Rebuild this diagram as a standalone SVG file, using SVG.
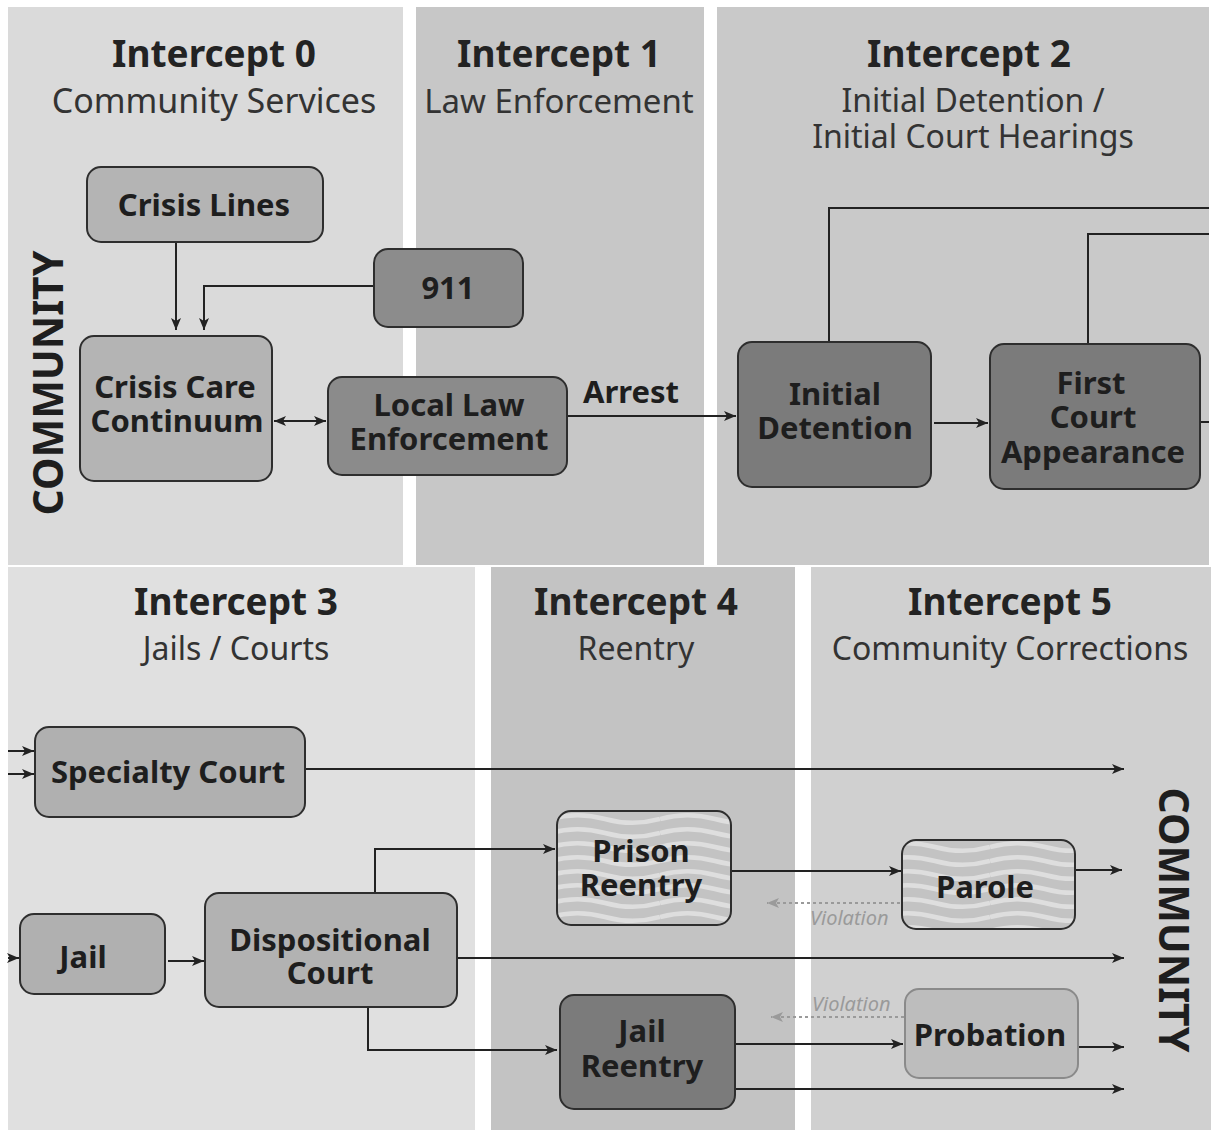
<svg xmlns="http://www.w3.org/2000/svg" width="1215" height="1130" viewBox="0 0 1215 1130">
<style>
.title{font-family:"Noto Sans","Open Sans",sans-serif;font-weight:700;font-size:37px;fill:#232323;text-anchor:middle}
.sub{font-family:"Noto Sans","Open Sans",sans-serif;font-size:32px;fill:#333;text-anchor:middle}
.lbl{font-family:"Noto Sans","Open Sans",sans-serif;font-weight:700;font-size:31px;fill:#1e1e1e;text-anchor:middle}
.comm{font-family:"Noto Sans","Open Sans",sans-serif;font-weight:700;font-size:41px;fill:#1e1e1e;text-anchor:middle}
.viol{font-family:"Noto Sans","Open Sans",sans-serif;font-style:italic;font-size:20px;fill:#9a9a9a}
.box{stroke:#2e2e2e;stroke-width:2}
.ln{fill:none;stroke:#222;stroke-width:2}
.dash{fill:none;stroke:#9a9a9a;stroke-width:2;stroke-dasharray:3 3}
</style>
<defs>
<marker id="ah" markerUnits="userSpaceOnUse" markerWidth="12" markerHeight="10" refX="12" refY="5" orient="auto">
<path d="M0,0 L12,5 L0,10 L3,5 Z" fill="#222"/>
</marker>
<marker id="ahs" markerUnits="userSpaceOnUse" markerWidth="12" markerHeight="10" refX="0" refY="5" orient="auto">
<path d="M12,0 L0,5 L12,10 L9,5 Z" fill="#222"/>
</marker>
<marker id="ahg" markerUnits="userSpaceOnUse" markerWidth="12" markerHeight="10" refX="12" refY="5" orient="auto">
<path d="M0,0 L12,5 L0,10 L3,5 Z" fill="#9a9a9a"/>
</marker>
<pattern id="wave" patternUnits="userSpaceOnUse" width="110" height="14">
<rect width="110" height="14" fill="#c3c3c3"/>
<path d="M0,7 C18,2 37,2 55,7 C73,12 92,12 110,7" fill="none" stroke="#dedede" stroke-width="4.5"/>
</pattern>
</defs>

<!-- panels -->
<g id="panels">
<rect x="8" y="7" width="395" height="558" fill="#dadada"/>
<rect x="416" y="7" width="288" height="558" fill="#c7c7c7"/>
<rect x="717" y="7" width="492" height="558" fill="#c9c9c9"/>
<rect x="8" y="567" width="467" height="563" fill="#e0e0e0"/>
<rect x="491" y="567" width="304" height="563" fill="#c3c3c3"/>
<rect x="811" y="567" width="400" height="563" fill="#d0d0d0"/>
</g>

<g id="headings">
<text class="title" x="214" y="67">Intercept 0</text>
<text class="sub" x="214" y="113" style="font-size:34px">Community Services</text>
<text class="title" x="559" y="67">Intercept 1</text>
<text class="sub" x="559" y="113" style="font-size:33px">Law Enforcement</text>
<text class="title" x="969" y="67">Intercept 2</text>
<text class="sub" x="973" y="112"><tspan x="973">Initial Detention /</tspan><tspan x="973" dy="36">Initial Court Hearings</tspan></text>
<text class="title" x="236" y="615">Intercept 3</text>
<text class="sub" x="236" y="660">Jails / Courts</text>
<text class="title" x="636" y="615">Intercept 4</text>
<text class="sub" x="636" y="660">Reentry</text>
<text class="title" x="1010" y="615">Intercept 5</text>
<text class="sub" x="1010" y="660">Community Corrections</text>
<text class="comm" transform="translate(63,383) rotate(-90)">COMMUNITY</text>
<text class="comm" transform="translate(1159,920) rotate(90)">COMMUNITY</text>
</g>

<g id="connectors">
<path class="ln" d="M176,243 V330" marker-end="url(#ah)"/>
<path class="ln" d="M374,286 H204 V330" marker-end="url(#ah)"/>
<path class="ln" d="M274,421 H326" marker-start="url(#ahs)" marker-end="url(#ah)"/>
<path class="ln" d="M567,416 H736" marker-end="url(#ah)"/>
<text class="lbl" x="631" y="403">Arrest</text>
<path class="ln" d="M934,423 H988" marker-end="url(#ah)"/>
<path class="ln" d="M829,342 V208 H1209"/>
<path class="ln" d="M1088,344 V234 H1209"/>
<path class="ln" d="M1200,422 H1209"/>

<path class="ln" d="M8,751 H34" marker-end="url(#ah)"/>
<path class="ln" d="M8,774 H34" marker-end="url(#ah)"/>
<path class="ln" d="M8,958 H19" marker-end="url(#ah)"/>
<path class="ln" d="M305,769 H1124" marker-end="url(#ah)"/>
<path class="ln" d="M168,961 H204" marker-end="url(#ah)"/>
<path class="ln" d="M375,893 V849 H555" marker-end="url(#ah)"/>
<path class="ln" d="M457,958 H1124" marker-end="url(#ah)"/>
<path class="ln" d="M368,1007 V1050 H557" marker-end="url(#ah)"/>
<path class="ln" d="M731,871 H901" marker-end="url(#ah)"/>
<path class="ln" d="M1075,870 H1122" marker-end="url(#ah)"/>
<path class="dash" d="M900,903 H767" marker-end="url(#ahg)"/>
<text class="viol" x="810" y="925">Violation</text>
<path class="dash" d="M904,1017 H771" marker-end="url(#ahg)"/>
<text class="viol" x="812" y="1011">Violation</text>
<path class="ln" d="M735,1044 H903" marker-end="url(#ah)"/>
<path class="ln" d="M1078,1047 H1124" marker-end="url(#ah)"/>
<path class="ln" d="M735,1089 H1124" marker-end="url(#ah)"/>
</g>

<g id="crisis-lines"><rect class="box" x="87" y="167" width="236" height="75" rx="14" fill="#b4b4b4"/><text class="lbl" x="204" y="216">Crisis Lines</text></g>
<g id="n911"><rect class="box" x="374" y="249" width="149" height="78" rx="14" fill="#8c8c8c"/><text class="lbl" x="448" y="299">911</text></g>
<g id="crisis-care"><rect class="box" x="80" y="336" width="192" height="145" rx="14" fill="#b4b4b4"/><text class="lbl" y="398"><tspan x="175">Crisis Care</tspan><tspan x="177" dy="34">Continuum</tspan></text></g>
<g id="local-law"><rect class="box" x="328" y="377" width="239" height="98" rx="14" fill="#8b8b8b"/><text class="lbl" y="416"><tspan x="449">Local Law</tspan><tspan x="449" dy="34">Enforcement</tspan></text></g>
<g id="initial-detention"><rect class="box" x="738" y="342" width="193" height="145" rx="14" fill="#7b7b7b"/><text class="lbl" y="405"><tspan x="835">Initial</tspan><tspan x="835" dy="34">Detention</tspan></text></g>
<g id="first-court"><rect class="box" x="990" y="344" width="210" height="145" rx="14" fill="#7b7b7b"/><text class="lbl" y="394"><tspan x="1091">First</tspan><tspan x="1093" dy="34">Court</tspan><tspan x="1093" dy="35">Appearance</tspan></text></g>

<g id="specialty-court"><rect class="box" x="35" y="727" width="270" height="90" rx="14" fill="#b0b0b0"/><text class="lbl" x="168" y="783">Specialty Court</text></g>
<g id="jail"><rect class="box" x="20" y="914" width="145" height="80" rx="14" fill="#b0b0b0"/><text class="lbl" x="83" y="968">Jail</text></g>
<g id="dispositional-court"><rect class="box" x="205" y="893" width="252" height="114" rx="14" fill="#b2b2b2"/><text class="lbl" y="951"><tspan x="330">Dispositional</tspan><tspan x="330" dy="33">Court</tspan></text></g>
<g id="prison-reentry"><rect class="box" x="557" y="811" width="174" height="114" rx="14" fill="url(#wave)"/><text class="lbl" y="862"><tspan x="641">Prison</tspan><tspan x="641" dy="34">Reentry</tspan></text></g>
<g id="jail-reentry"><rect class="box" x="560" y="995" width="175" height="114" rx="14" fill="#7b7b7b"/><text class="lbl" y="1042"><tspan x="642">Jail</tspan><tspan x="642" dy="35">Reentry</tspan></text></g>
<g id="parole"><rect class="box" x="902" y="840" width="173" height="89" rx="14" fill="url(#wave)"/><text class="lbl" x="985" y="898">Parole</text></g>
<g id="probation"><rect x="905" y="989" width="173" height="89" rx="14" fill="#bdbdbd" stroke="#8a8a8a" stroke-width="2"/><text class="lbl" x="990" y="1046">Probation</text></g>
</svg>
